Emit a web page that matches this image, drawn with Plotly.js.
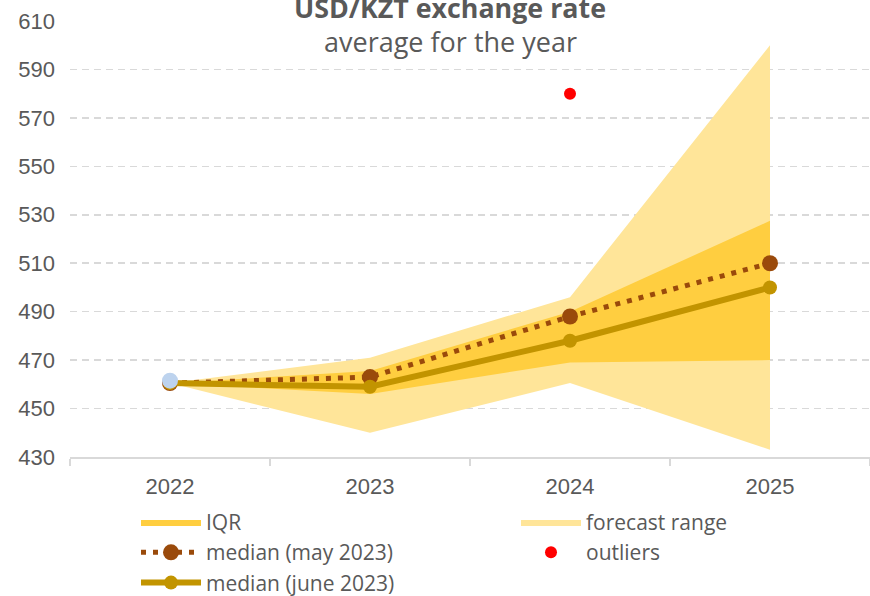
<!DOCTYPE html>
<html>
<head>
<meta charset="utf-8">
<script src="https://cdn.plot.ly/plotly-3.0.1.min.js"></script>
<style>html,body{margin:0;padding:0;background:#fff;}#chart{width:870px;height:596px;}</style>
</head>
<body>
<div id="chart"></div>
<script>
// ---- data ----
const years = ['2022', '2023', '2024', '2025'];
const rangeHigh = [460.5, 471, 496, 600];
const rangeLow = [460.5, 440, 460.5, 433];
const iqrHigh = [460.5, 465.5, 490, 527.5];
const iqrLow = [460.5, 456, 469, 470];
const medianMay = [460.5, 463, 488, 510];
const medianJune = [460.5, 459, 478, 500];
const actualYears = ['2022'];
const actualValues = [461.5];
const outlierYears = ['2024'];
const outlierValues = [580];
const yTicks = [430, 450, 470, 490, 510, 530, 550, 570, 590, 610];

function band(hi, lo) {
  return {
    x: years.concat(years.slice().reverse()),
    y: hi.concat(lo.slice().reverse())
  };
}
const rb = band(rangeHigh, rangeLow);
const ib = band(iqrHigh, iqrLow);

const traces = [
  {x: rb.x, y: rb.y, type: 'scatter', mode: 'lines', fill: 'toself',
   fillcolor: 'rgb(255,229,153)', line: {width: 0, color: 'rgba(0,0,0,0)'},
   name: 'forecast range', legend: 'legend2', legendrank: 1, hoverinfo: 'skip'},
  {x: ib.x, y: ib.y, type: 'scatter', mode: 'lines', fill: 'toself',
   fillcolor: 'rgb(255,206,64)', line: {width: 0, color: 'rgba(0,0,0,0)'},
   name: 'IQR', legend: 'legend', legendrank: 1, hoverinfo: 'skip'},
  {x: years, y: medianMay, type: 'scatter', mode: 'lines+markers',
   line: {color: '#9A4A0B', width: 5, dash: '5px,7px'},
   marker: {color: '#9A4A0B', size: 16},
   name: 'median (may 2023)', legend: 'legend', legendrank: 2},
  {x: years, y: medianJune, type: 'scatter', mode: 'lines+markers',
   line: {color: '#C29400', width: 6},
   marker: {color: '#C29400', size: 14},
   name: 'median (june 2023)', legend: 'legend', legendrank: 3},
  {x: actualYears, y: actualValues, type: 'scatter', mode: 'markers',
   marker: {color: '#BDD3EE', size: 16}, showlegend: false, name: 'actual'},
  {x: outlierYears, y: outlierValues, type: 'scatter', mode: 'markers',
   marker: {color: '#FF0000', size: 12}, name: 'outliers', legend: 'legend2', legendrank: 2}
];

const fontMain = 'Open Sans, sans-serif';
const legendFont = {family: fontMain, size: 21, color: '#595959'};
const layout = {
  width: 870, height: 596,
  margin: {l: 70, r: 0, t: 21, b: 138.5},
  paper_bgcolor: '#ffffff', plot_bgcolor: '#ffffff',
  showlegend: true,
  legend: {
    orientation: 'v', x: 0.0825, xanchor: 'left',
    yref: 'container', y: 0.158, yanchor: 'top',
    font: legendFont, traceorder: 'normal', itemwidth: 60, tracegroupgap: 0,
    bgcolor: 'rgba(0,0,0,0)'
  },
  legend2: {
    orientation: 'v', x: 0.5575, xanchor: 'left',
    yref: 'container', y: 0.158, yanchor: 'top',
    font: legendFont, traceorder: 'normal', itemwidth: 60, tracegroupgap: 0,
    bgcolor: 'rgba(0,0,0,0)'
  },
  xaxis: {
    type: 'category', range: [-0.5, 3.5], tickson: 'boundaries',
    ticks: 'outside', ticklen: 7, tickcolor: '#D9D9D9', tickwidth: 2,
    showline: true, linecolor: '#D9D9D9', linewidth: 2,
    showgrid: false, zeroline: false, fixedrange: true,
    tickfont: {family: 'Liberation Sans, Arial, sans-serif', size: 22, color: '#595959'},
    ticklabelstandoff: 9
  },
  yaxis: {
    range: [430, 610], tickvals: yTicks, ticktext: yTicks.map(String),
    showgrid: true, gridcolor: '#D9D9D9', griddash: '7px,5px', gridwidth: 1.5,
    zeroline: false, showline: false, ticks: '', fixedrange: true,
    tickfont: {family: 'Liberation Sans, Arial, sans-serif', size: 22, color: '#595959'},
    ticklabelstandoff: 14
  },
  annotations: [
    {text: '<b>USD/KZT exchange rate</b>', xref: 'paper', yref: 'paper',
     x: 0.475, y: 1.032, xanchor: 'center', yanchor: 'middle', showarrow: false,
     font: {family: fontMain, size: 26.8, color: '#595959'}},
    {text: 'average for the year', xref: 'paper', yref: 'paper',
     x: 0.475, y: 0.952, xanchor: 'center', yanchor: 'middle', showarrow: false,
     font: {family: fontMain, size: 27, color: '#595959'}}
  ]
};

Plotly.newPlot('chart', traces, layout, {displayModeBar: false, staticPlot: true});
</script>
</body>
</html>
